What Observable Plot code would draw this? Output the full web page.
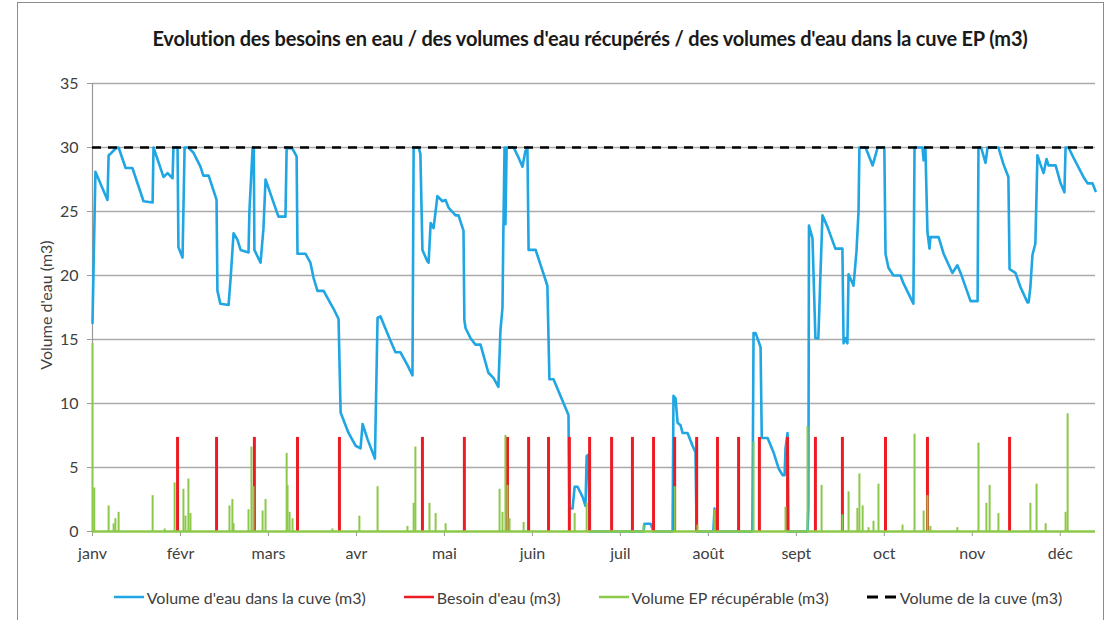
<!DOCTYPE html>
<html><head><meta charset="utf-8">
<script src="https://cdn.jsdelivr.net/npm/d3@7"></script>
<script src="https://cdn.jsdelivr.net/npm/@observablehq/plot@0.6"></script>
<style>
body{margin:0;background:#fff;font-family:Lato,"Open Sans",sans-serif;}
#wrap{position:relative;width:1112px;height:620px;overflow:hidden;background:#fff;}
#frame{position:absolute;left:17px;top:2px;width:1087px;height:700px;border:1px solid #8c8c8c;box-sizing:border-box;}
#title{position:absolute;left:0;top:26px;width:1180px;text-align:center;font-size:20px;line-height:24px;font-weight:bold;color:#1a1a1a;letter-spacing:-0.2px;}
#chart{position:absolute;left:0;top:60px;}
#ylab{position:absolute;left:45px;top:305px;transform:translate(-50%,-50%) rotate(-90deg);white-space:nowrap;font-size:16px;color:#404040;}
#legend{position:absolute;left:0;top:585px;width:1176px;height:24px;display:flex;justify-content:center;align-items:center;gap:38px;font-size:16px;color:#404040;}
.item{display:flex;align-items:center;}
.item svg{margin-right:3px;}
</style>
</head><body>
<div id="wrap">
  <div id="frame"></div>
  <div id="title">Evolution des besoins en eau / des volumes d'eau récupérés / des volumes d'eau dans la cuve EP (m3)</div>
  <div id="chart"></div>
  <div id="ylab">Volume d'eau (m3)</div>
  <div id="legend"></div>
</div>
<script>
// ---- data (x in days, equally spaced month ticks every 30 days) ----
const monthTicks = [0,30,60,90,120,150,180,210,240,270,300,330];
const monthNames = ["janv","févr","mars","avr","mai","juin","juil","août","sept","oct","nov","déc"];
const yTicks = [0,5,10,15,20,25,30,35];
const tankCapacity = 30;

// Volume d'eau dans la cuve (m3)
const blueDay = [0,1,5.1,5.5,6.1,7.8,8.5,8.9,11.3,13.6,17.4,20.5,20.8,24.2,25.6,27.3,27.6,29.0,29.3,30.7,31.4,32.7,34.4,36.8,37.8,39.6,41.9,42.3,42.6,43.6,46.4,47.1,48.1,49.4,50.5,53.2,53.5,54.6,55.0,55.2,57.3,58.3,59.0,63.4,65.8,66.2,68.2,69.6,69.9,72.6,74.3,75.4,76.7,78.8,82.2,83.9,84.6,87.3,89.7,91.4,92.1,93.8,96.3,97.2,98.2,101.6,103.3,105.0,107.4,109.1,109.5,111.2,111.8,112.5,114.2,114.6,115.3,116.3,117.6,119.3,120.4,121.4,123.8,124.8,126.5,126.8,127.2,128.9,130.6,132.3,135.0,136.7,138.4,139.1,139.8,140.1,140.5,140.8,141.2,143.6,145.3,146.6,147.6,148.3,148.7,151.1,153.4,155.1,155.8,157.2,162.3,162.6,163.7,164.4,165.4,167.1,168.1,168.5,169.1,169.5,187.9,188.2,190.3,191.3,197.8,198.1,198.8,199.5,200.5,201.2,202.9,204.6,205.6,206.0,211.7,212.1,212.5,225.0,225.4,226.1,227.8,228.2,230.2,232.2,234.0,235.3,236.0,236.3,237.0,237.3,243.8,244.1,244.3,245.5,246.5,247.5,248.2,248.9,250.6,253.3,255.7,256.1,256.8,257.4,257.8,259.5,260.5,261.2,261.5,263.6,266.0,267.0,267.7,270.0,270.4,271.4,273.1,275.5,276.5,278.2,279.9,280.3,283.0,283.4,284.0,284.7,285.4,285.7,288.5,290.2,293.2,294.9,296.0,299.4,301.8,302.1,303.0,304.5,305.2,308.9,310.6,312.3,312.7,314.7,316.4,318.8,319.2,319.8,320.5,321.5,322.2,323.2,324.3,325.3,326.0,328.4,330.1,331.4,331.8,332.8,334.5,337.9,339.3,341.0,342.0];
const blueVol = [16.3,28.1,25.9,29.4,29.5,29.9,30,30,28.4,28.4,25.8,25.7,30,27.7,28,27.6,30,30,22.2,21.4,30,30,29.6,28.5,27.8,27.8,26.2,25.9,18.8,17.8,17.7,19.8,23.3,22.8,22.0,21.8,25,30,30,22.0,21.0,23.7,27.5,24.6,24.6,30,29.9,29.3,21.7,21.7,21.0,19.8,18.8,18.8,17.4,16.6,9.3,7.7,6.7,6.5,8.4,7.2,5.7,16.7,16.8,14.9,14.0,14.0,13.0,12.2,30,30,29.5,22.0,21.1,21.0,24.1,23.7,26.2,25.8,25.9,25.3,24.7,24.7,23.5,16.5,15.9,15.1,14.6,14.6,12.4,12.0,11.3,15.7,17.5,23.5,30,24,30,30,29.2,28.5,29.7,30,22.0,22.0,20.4,19.2,11.9,11.9,9.1,1.8,1.8,3.5,3.5,2.7,2.0,5.9,6.0,0,0,0.6,0.6,0,0,10.6,10.4,8.5,8.3,7.7,7.7,6.7,6.2,0,0,1.8,0,0,15.5,15.5,14.4,7.3,7.3,6.2,4.9,4.4,4.4,6.5,7.7,0,0,1.9,23.9,22.9,15.1,15.1,20,24.7,23.8,22.1,22.1,14.7,15.1,14.7,20.1,19.2,21.9,25,30,30,28.6,29.4,30,30,21.7,20.6,20.0,20.0,19.4,18.6,17.8,30,30,29.0,30,23.4,22.1,23.0,23.0,21.7,20.2,20.8,20.2,18.0,18.0,30,30,28.8,30,30,28.7,27.7,20.5,20.2,19.1,17.9,17.9,19.1,21.6,22.5,29.4,28.7,28.0,29.1,28.6,28.6,27.2,26.5,30,30,29.2,27.7,27.2,27.2,26.6];

// Besoin d'eau (m3)
const needDay = [29.0,42.3,55.2,69.9,84.2,112.5,126.8,141.5,148.7,155.5,162.6,169.5,177.0,184.1,191.3,198.5,206.0,213.1,220.3,227.4,237.0,246.5,255.7,270.4,284.7,312.7];
const needVol = 7.35;

// Volume EP récupérable (m3)
const rainDay = [0,0.6,5.5,7.2,7.8,8.9,20.5,24.6,28.0,31.0,31.7,32.7,33.4,46.7,47.7,48.1,53.2,54.2,54.9,58.0,59.0,66.2,66.5,67.2,68.2,81.8,91.0,97.2,107.4,109.5,110.1,114.9,117.0,120.4,138.8,139.8,140.8,141.5,142.2,147.0,164.4,168.5,187.9,198.5,206.3,212.1,225.4,236.3,243.8,248.6,255.7,257.8,260.8,261.5,262.6,264.6,266.3,268.0,276.2,280.3,283.4,284.7,285.7,294.9,302.1,304.8,305.9,308.9,319.8,321.9,325.0,331.8,332.5];
const rainVol = [14.7,3.4,2.0,0.6,1.0,1.5,2.8,0.2,3.8,3.3,1.2,4.1,1.4,2.0,2.5,0.6,1.7,6.6,3.5,1.6,2.5,6.1,3.6,1.5,1.0,0.2,1.2,3.5,0.4,2.2,6.6,2.2,1.4,0.6,3.3,1.5,7.5,3.6,1.0,0.7,1.4,2.2,0.5,3.5,0.5,1.7,7.0,1.9,8.2,3.6,1.3,3.1,1.8,4.5,2.0,0.3,0.8,3.7,0.5,7.6,1.6,2.8,0.4,0.3,6.9,2.2,3.6,1.4,2.2,3.7,0.6,1.5,9.2];

const xDomain = [0, 342];

const colors = {blue:"#1fa6e3", red:"#ed1c24", green:"#8cc84a", dash:"#000000", grid:"#aaaaaa", axis:"#999999", text:"#404040"};

const blue = blueDay.map((d,i)=>({d, v:blueVol[i]}));
const need = needDay.map(d=>({d, v:needVol}));
const rain = rainDay.map((d,i)=>({d, v:rainVol[i]}));

const chart = Plot.plot({
  width:1112, height:520,
  marginLeft:92, marginRight:17, marginTop:23, marginBottom:49,
  style:{fontFamily:"Lato, 'Open Sans', sans-serif", fontSize:"16px", color:colors.text, background:"transparent"},
  x:{type:"linear", domain:xDomain},
  y:{domain:[0,35]},
  marks:[
    Plot.ruleY(yTicks.filter(t=>t>0), {x1:xDomain[0], x2:xDomain[1], stroke:colors.grid, strokeWidth:1.4}),
    Plot.ruleX([xDomain[0]], {y1:0, y2:35, stroke:colors.axis, strokeWidth:1.2}),
    Plot.axisY({ticks:yTicks, tickSize:5, tickPadding:9, stroke:colors.axis, fill:colors.text, label:null}),
    Plot.axisX({ticks:monthTicks, tickFormat:(d)=>monthNames[monthTicks.indexOf(d)], tickSize:5, tickPadding:11, stroke:colors.axis, fill:colors.text, label:null}),
    Plot.line(blue, {x:"d", y:"v", stroke:colors.blue, strokeWidth:2.6, strokeLinejoin:"round"}),
    Plot.ruleX(need, {x:"d", y1:0, y2:"v", stroke:colors.red, strokeWidth:3}),
    Plot.ruleY([0], {x1:xDomain[0], x2:xDomain[1], stroke:colors.green, strokeWidth:2.6}),
    Plot.ruleX(rain, {x:"d", y1:0, y2:"v", stroke:colors.green, strokeWidth:2}),
    Plot.ruleY([tankCapacity], {x1:xDomain[0], x2:xDomain[1], stroke:colors.dash, strokeWidth:2.6, strokeDasharray:"9,7"})
  ]
});
document.getElementById("chart").appendChild(chart);

// legend
const legendItems = [
  {label:"Volume d'eau dans la cuve (m3)", color:colors.blue, dash:null},
  {label:"Besoin d'eau (m3)", color:colors.red, dash:null},
  {label:"Volume EP récupérable (m3)", color:colors.green, dash:null},
  {label:"Volume de la cuve (m3)", color:colors.dash, dash:"11,7"}
];
const leg = document.getElementById("legend");
for (const it of legendItems) {
  const div = document.createElement("div");
  div.className = "item";
  div.innerHTML = `<svg width="30" height="10"><line x1="0" x2="30" y1="5" y2="5" stroke="${it.color}" stroke-width="${it.dash?3:2.5}" ${it.dash?`stroke-dasharray="${it.dash}"`:""}/></svg><span>${it.label}</span>`;
  leg.appendChild(div);
}
</script>
</body></html>
